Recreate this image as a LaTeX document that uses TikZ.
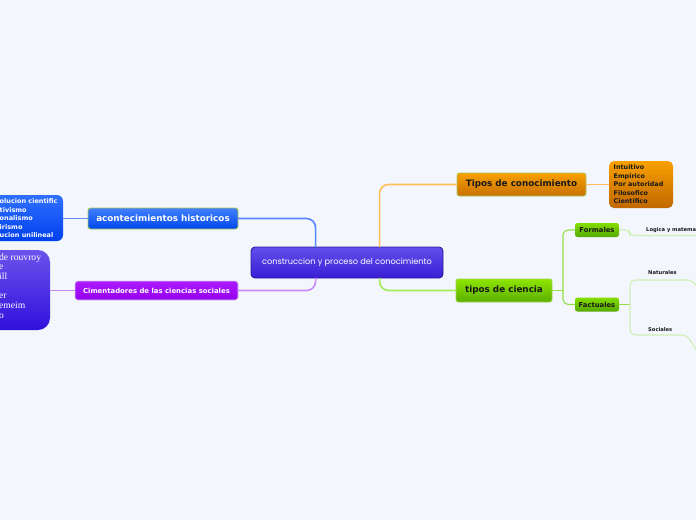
\documentclass[tikz,border=0pt]{standalone}
\usepackage{fontspec}
\newfontfamily\vfont{DejaVu Sans}
\newfontfamily\hfont{Poppins}
\newfontfamily\sfont{Liberation Serif}
\usetikzlibrary{calc}
\definecolor{bg}{RGB}{243,246,253}
\definecolor{txtdark}{RGB}{25,25,25}
\definecolor{cenborder}{RGB}{45,28,150}
\definecolor{centop}{RGB}{96,80,234}
\definecolor{cenbot}{RGB}{58,29,214}
\definecolor{lgborder}{RGB}{170,200,90}
\definecolor{grnborder}{RGB}{160,208,80}
\definecolor{bluetop}{RGB}{66,128,255}
\definecolor{bluebot}{RGB}{0,72,238}
\definecolor{bltop}{RGB}{48,112,255}
\definecolor{blbot}{RGB}{0,64,238}
\definecolor{purptop}{RGB}{172,28,255}
\definecolor{purpbot}{RGB}{150,0,238}
\definecolor{purpborder}{RGB}{215,205,232}
\definecolor{orgtop}{RGB}{248,160,0}
\definecolor{orgbot}{RGB}{200,112,0}
\definecolor{orgbot2}{RGB}{192,104,0}
\definecolor{grntop}{RGB}{142,230,0}
\definecolor{grnbot}{RGB}{90,174,0}
\definecolor{smgtop}{RGB}{132,222,0}
\definecolor{smgbot}{RGB}{84,168,0}
\definecolor{vioTop}{RGB}{108,82,236}
\definecolor{vioBot}{RGB}{48,16,220}
\definecolor{blueline}{RGB}{85,135,255}
\definecolor{blueline2}{RGB}{100,140,230}
\definecolor{purpline}{RGB}{200,140,248}
\definecolor{orgline}{RGB}{255,190,90}
\definecolor{grnline}{RGB}{160,236,90}
\definecolor{grnline2}{RGB}{150,225,70}
\definecolor{paleline}{RGB}{208,240,178}
\tikzset{
  mmbox/.style={rectangle, inner sep=0pt, line width=0.9pt},
  lightbox/.style={mmbox, draw=lgborder, rounded corners=2.5pt},
  conn/.style={line width=1.6pt, line cap=round},
  thinconn/.style={line width=1.1pt, line cap=round},
  tinylabel/.style={anchor=west, inner sep=0pt, text=txtdark, font=\vfont\bfseries\fontsize{5.2}{6}\selectfont},
}
\begin{document}
\begin{tikzpicture}[x=1pt,y=-1pt]
\useasboundingbox (0,0) rectangle (696,520);
\clip (0,0) rectangle (696,520);
\fill[bg] (0,0) rectangle (696,520);

% nodes
\node[mmbox, draw=cenborder, rounded corners=4pt, top color=centop, bottom color=cenbot,
  minimum width=192pt, minimum height=31pt, text=white, font=\hfont\fontsize{8.2}{10}\selectfont]
  (central) at (347,262.5) {construccion y proceso del conocimiento};

\node[lightbox, top color=bluetop, bottom color=bluebot, minimum width=150pt, minimum height=21pt,
  text=white, font=\vfont\bfseries\fontsize{8.8}{10}\selectfont]
  (acont) at (163,218.5) {acontecimientos historicos};

\node[mmbox, draw=purpborder, rounded corners=2.5pt, top color=purptop, bottom color=purpbot,
  minimum width=163pt, minimum height=19pt, text=white, font=\vfont\bfseries\fontsize{6.9}{8}\selectfont]
  (ciment) at (156.5,290.5) {Cimentadores de las ciencias sociales};

\node[lightbox, top color=orgtop, bottom color=orgbot, minimum width=129pt, minimum height=23pt,
  text=txtdark, font=\vfont\bfseries\fontsize{8.8}{10}\selectfont]
  (tiposcon) at (521.5,184.5) {Tipos de conocimiento};

\node[lightbox, draw=grnborder, top color=grntop, bottom color=grnbot, minimum width=96pt, minimum height=23pt,
  text=txtdark, font=\vfont\bfseries\fontsize{8.8}{10}\selectfont]
  (ciencia) at (504,290.5) {tipos de ciencia};

\node[mmbox, rounded corners=2.5pt, top color=smgtop, bottom color=smgbot,
  minimum width=44pt, minimum height=14pt, text=txtdark, font=\vfont\bfseries\fontsize{6.8}{8}\selectfont]
  (formales) at (597,230) {Formales};

\node[mmbox, rounded corners=2.5pt, top color=smgtop, bottom color=smgbot,
  minimum width=44pt, minimum height=14pt, text=txtdark, font=\vfont\bfseries\fontsize{6.8}{8}\selectfont]
  (factuales) at (597,304.5) {Factuales};

% orange list box
\node[mmbox, rounded corners=5pt, top color=orgtop, bottom color=orgbot2,
  minimum width=64pt, minimum height=47pt] (orglist) at (641,184.5) {};
\node[anchor=west, inner sep=0pt, align=left, text=txtdark,
  font=\vfont\bfseries\fontsize{6.4}{8.45}\selectfont] (orgtext) at (613.5,184.3)
  {Intuitivo\\Empirico\\Por autoridad\\Filosofico\\Cientifico};

% blue list box (partly off page)
\node[mmbox, rounded corners=6pt, top color=bltop, bottom color=blbot,
  minimum width=103pt, minimum height=46pt] (bluelist) at (11.5,218) {};
\node[anchor=west, inner sep=0pt, align=left, text=white,
  font=\vfont\bfseries\fontsize{6.5}{8.45}\selectfont] (bluetext) at (-0.5,218.3)
  {olucion cientific\\tivismo\\onalismo\\irismo\\ucion unilineal};

% violet list box (partly off page)
\node[mmbox, rounded corners=12pt, top color=vioTop, bottom color=vioBot,
  minimum width=110pt, minimum height=80pt] (violist) at (-5,290) {};
\node[anchor=west, inner sep=0pt, align=left, text=white,
  font=\sfont\fontsize{9.6}{9.65}\selectfont] (viotext) at (-1,286)
  {de rouvroy\\e\\ill\\\mbox{}\\er\\emeim\\o};

% small labels
\node[tinylabel] (logica) at (646,230) {Logica y matema};
\node[tinylabel] (naturales) at (648,273) {Naturales};
\node[tinylabel] (sociales) at (648,330) {Sociales};

% end coordinates
\coordinate (logend) at (697,235.5);
\coordinate (natend) at (697,287);
\coordinate (socend) at (697,351);
\coordinate (gj) at (563,290.5);
\coordinate (fj) at (630,304.5);

% connectors
\draw[conn, blueline, rounded corners=9pt] ([xshift=65pt]central.north west) |- (acont.east);
\draw[conn, purpline, rounded corners=9pt] ([xshift=65pt]central.south west) |- (ciment.east);
\draw[conn, orgline, rounded corners=9pt] ([xshift=129pt]central.north west) |- (tiposcon.west);
\draw[conn, grnline, rounded corners=9pt] ([xshift=129pt]central.south west) |- (ciencia.west);

\draw[thinconn, blueline2] (acont.west) -- (bluelist.east |- acont.west);
\draw[thinconn, purpline] (ciment.west) -- (violist.east |- ciment.west);
\draw[thinconn, orgline] (tiposcon.east) -- (orglist.west);

\draw[thinconn, grnline2] (ciencia.east) -- (gj);
\draw[thinconn, grnline2, rounded corners=5pt] (formales.west) -| (gj) |- (factuales.west);

\draw[thinconn, paleline, rounded corners=4pt] (formales.east) -- ++(10,0) |- (logend);
\draw[thinconn, grnline2] (factuales.east) -- (fj);
\draw[thinconn, paleline, rounded corners=5pt] (natend) -- (692,280) -- (630,280) -- (fj) -- (630,335) -- (687,335) -- (socend);
\end{tikzpicture}
\end{document}
